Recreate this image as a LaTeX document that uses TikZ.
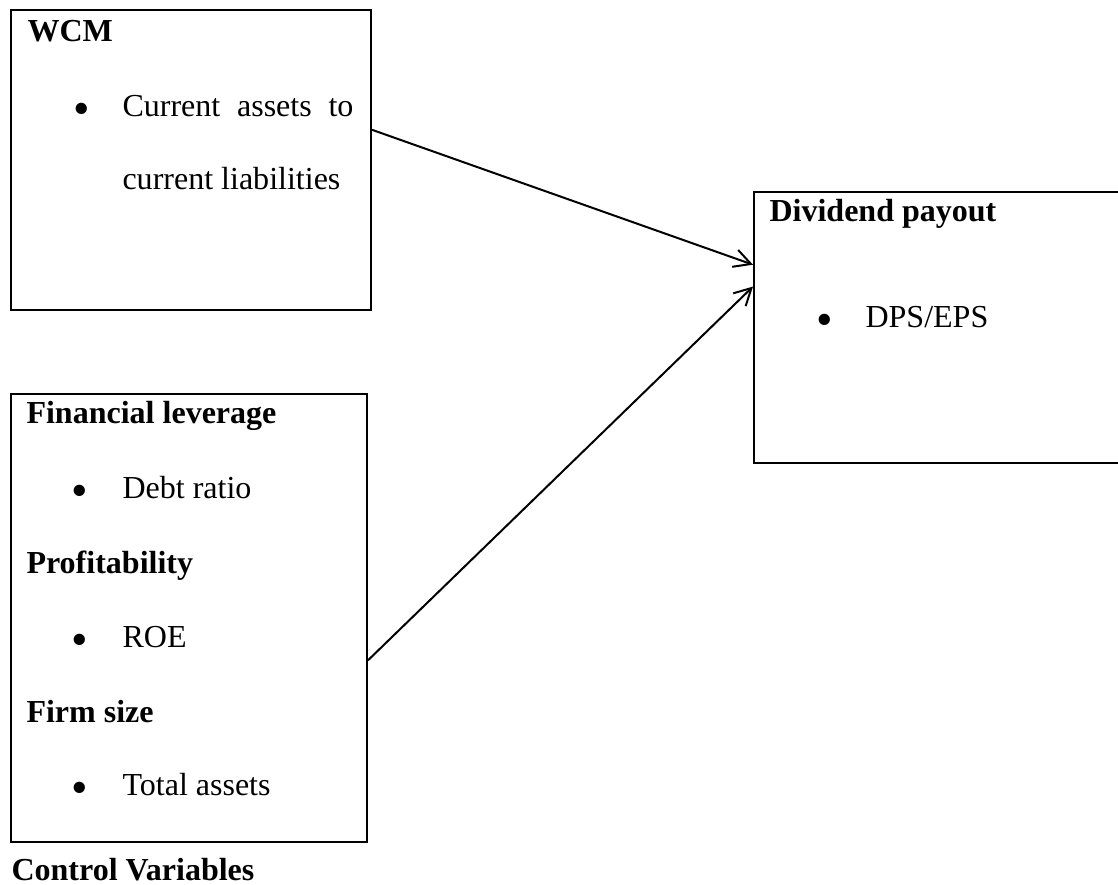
\documentclass[tikz,border=0pt]{standalone}
\usepackage{fontspec}
\setmainfont{Liberation Serif}
\usetikzlibrary{arrows.meta,calc,fit}
\begin{document}
\begin{tikzpicture}[x=0.381pt,y=-0.381pt,
  box/.style={draw,line width=0.76pt,inner sep=0pt,rectangle},
  txt/.style={anchor=base west,inner sep=0pt,font=\fontsize{12.2}{14}\selectfont},
  head/.style={anchor=base west,inner sep=0pt,font=\fontsize{12.2}{14}\selectfont\bfseries},
  bul/.style={anchor=center,inner sep=0pt,font=\fontsize{18}{18}\selectfont},
  arr/.style={line width=0.76pt,-{Straight Barb[length=6.4pt,width=6.8pt]}}]
\useasboundingbox (0,0) rectangle (1118,885);
% boxes
\node[box,fit={(11,10)(371,310)}] (wcm) {};
\node[box,fit={(11,394)(367,842)}] (ctrl) {};
\node[box,fit={(754,192)(1124,463)}] (div) {};
% WCM box texts
\node[head] (wcmt) at (27,42) {WCM};
\node[bul] (b1) at (82,114) {•};
\node[txt] (t1) at (122,117) {\makebox[88pt][s]{Current assets to}};
\node[txt] (t2) at (122,190) {current liabilities};
% Dividend box texts
\node[head] (divt) at (769,222) {Dividend payout};
\node[bul] (b2) at (825,325) {•};
\node[txt] (t3) at (865,327) {DPS/EPS};
% Control box texts
\node[head] (fl) at (26,423) {Financial leverage};
\node[bul] (b3) at (80,496) {•};
\node[txt] (t4) at (122,498) {Debt ratio};
\node[head] (pr) at (26,573) {Profitability};
\node[bul] (b4) at (80,645) {•};
\node[txt] (t5) at (122,647) {ROE};
\node[head] (fs) at (26,722) {Firm size};
\node[bul] (b5) at (80,793) {•};
\node[txt] (t6) at (122,795) {Total assets};
\node[head] (cv) at (11,880) {Control Variables};
% arrows
\draw[arr] ($(wcm.north east)!0.4!(wcm.south east)$) -- ($(div.north west)!0.27!(div.south west)$);
\draw[arr] ($(ctrl.north east)!0.594!(ctrl.south east)$) -- ($(div.north west)!0.35!(div.south west)$);
\end{tikzpicture}
\end{document}
